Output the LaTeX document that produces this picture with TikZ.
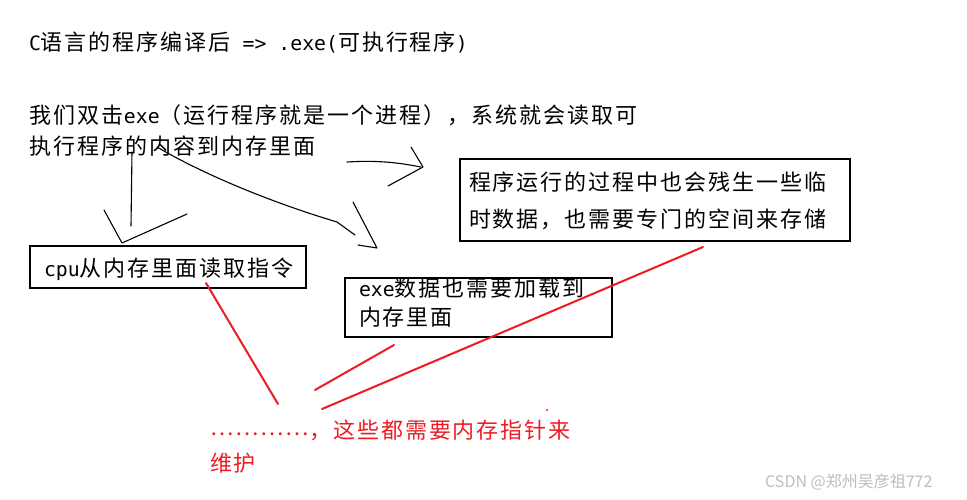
\documentclass[tikz,border=0pt]{standalone}
\usepackage{fontspec}
\setmainfont{Noto Sans CJK SC}[LetterSpace=9]
\newfontfamily\latf{DejaVu Sans Mono}[Scale=0.9]
\newfontfamily\wmf{Noto Sans CJK SC}
\newcommand\La[1]{{\latf #1}}
\definecolor{pred}{RGB}{237,28,36}
\definecolor{wmgray}{RGB}{190,190,190}
\tikzset{
  txt/.style={anchor=base west, inner sep=0pt, outer sep=0pt, align=left, font=\fontsize{22}{29}\selectfont},
  box/.style={draw=black, line width=2pt, inner sep=0pt, outer sep=0pt, anchor=north west},
  hand/.style={line width=1.1pt, line cap=round, line join=round},
  redline/.style={draw=pred, line width=2pt, line cap=round},
}
\begin{document}
\begin{tikzpicture}[x=1pt,y=-1pt]
\useasboundingbox[fill=white] (0,0) rectangle (967,499);

% boxes
\node[box, minimum width=390pt, minimum height=82pt] (boxA) at (460,159) {};
\node[box, minimum width=276pt, minimum height=42pt] (boxB) at (30,246) {};
\node[box, minimum width=267pt, minimum height=59pt] (boxC) at (345,278) {};

% texts (base anchor = baseline of last line)
\node[txt] (t1) at (29,50) {\La{C}语言的程序编译后\La{\ =>\ .exe(}可执行程序\La{)}};
\node[txt] (t2) at (30,154.4) {我们双击\La{exe}（运行程序就是一个进程），系统就会读取可\\[2pt]执行程序的内容到内存里面};
\node[txt] (tA) at (469,227.4) {程序运行的过程中也会残生一些临\\[7.5pt]时数据，也需要专门的空间来存储};
\node[txt] (tB) at (44,276) {\La{cpu}从内存里面读取指令};
\node[txt] (tC) at (359,325) {\La{exe}数据也需要加载到\\[0pt]内存里面};
\node[txt, text=pred] (tR) at (210,471.5) {\raisebox{3pt}{⋯⋯⋯⋯}，这些都需要内存指针来\\[4pt]维护};
\node[anchor=base west, inner sep=0pt, font=\wmf\fontsize{16}{18}\selectfont, text=wmgray] (wm) at (765,487) {CSDN @郑州吴彦祖772};

% hand-drawn black strokes
\coordinate (v1) at (132,152);
\coordinate (v2) at (131,226);
\coordinate (h1) at (104,210);
\coordinate (h2) at (122,243);
\coordinate (h3) at (187,214);
\draw[hand] (v1) -- (v2);
\draw[hand] (h1) -- (h2) -- (h3);

\coordinate (c1) at (157,147);
\coordinate (c2) at (337,222);
\coordinate (c3) at (355,235);
\coordinate (d1) at (353,202);
\coordinate (d2) at (377,248);
\coordinate (d3) at (358,245);
\draw[hand] (c1) .. controls (210,178) and (280,205) .. (c2) -- (c3);
\draw[hand] (d1) -- (d2) -- (d3);

\coordinate (r1) at (347,162);
\coordinate (r2) at (421,167);
\coordinate (e1) at (411,147);
\coordinate (e2) at (423,167);
\coordinate (e3) at (388,186);
\draw[hand] (r1) .. controls (380,160) and (400,163) .. (r2);
\draw[hand] (e1) -- (e2) -- (e3);

% red strokes
\coordinate (p1) at (206,283);
\coordinate (p2) at (278,404);
\coordinate (q1) at (394,345);
\coordinate (q2) at (315,390);
\coordinate (s1) at (703,247);
\coordinate (s2) at (322,409);
\draw[redline] (p1) -- (p2);
\draw[redline] (q1) -- (q2);
\draw[redline] (s1) -- (s2);
\fill[pred] (547,410) circle (1.2pt);
\end{tikzpicture}
\end{document}
